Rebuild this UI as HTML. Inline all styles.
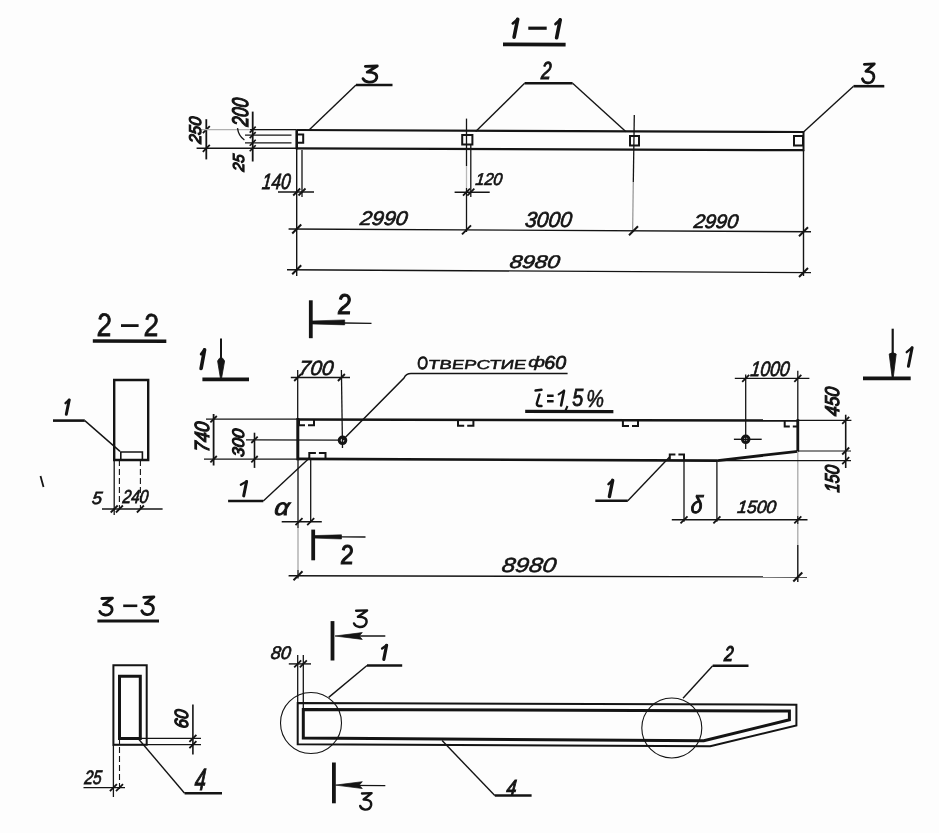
<!DOCTYPE html>
<html><head><meta charset="utf-8"><style>
html,body{margin:0;padding:0;background:#fff;}
svg{display:block;will-change:transform;}
text{font-family:"Liberation Sans",sans-serif;font-style:italic;}
</style></head><body>
<svg width="939" height="833" viewBox="0 0 939 833" stroke-linecap="butt">
<rect width="939" height="833" fill="#fdfdfd"/>
<path d="M517.7,19.2 L514.1,37.2" stroke="#141414" stroke-width="3.6" fill="none" stroke-linecap="round" stroke-linejoin="round"/>
<path d="M512.8,23.4 L517.7,19.2" stroke="#141414" stroke-width="2.7" fill="none" stroke-linecap="round" stroke-linejoin="round"/>
<line x1="528.3" y1="28.2" x2="546.7" y2="28.2" stroke="#141414" stroke-width="3.2" />
<path d="M560.2,19.8 L556.6,37.8" stroke="#141414" stroke-width="3.6" fill="none" stroke-linecap="round" stroke-linejoin="round"/>
<path d="M555.5,24.0 L560.2,19.8" stroke="#141414" stroke-width="2.7" fill="none" stroke-linecap="round" stroke-linejoin="round"/>
<line x1="503.0" y1="44.4" x2="565.6" y2="44.6" stroke="#141414" stroke-width="3.6" />
<line x1="296.7" y1="130.0" x2="803.5" y2="132.0" stroke="#141414" stroke-width="2.2" />
<line x1="296.7" y1="148.3" x2="803.5" y2="150.2" stroke="#141414" stroke-width="2.2" />
<line x1="296.7" y1="129.2" x2="296.7" y2="149.3" stroke="#141414" stroke-width="2.6" />
<line x1="803.5" y1="131.2" x2="803.5" y2="151.2" stroke="#141414" stroke-width="2.0" />
<path d="M297,134.5 H303.2 V142.8 H297 Z" stroke="#141414" stroke-width="2.0" fill="none"  stroke-linejoin="miter"/>
<path d="M462.2,134.9 H472.4 V144.6 H462.2 Z" stroke="#141414" stroke-width="2.0" fill="none"  stroke-linejoin="miter"/>
<path d="M630,136 H639 V145.5 H630 Z" stroke="#141414" stroke-width="2.0" fill="none"  stroke-linejoin="miter"/>
<path d="M794,136 H803 V145.5 H794 Z" stroke="#141414" stroke-width="2.0" fill="none"  stroke-linejoin="miter"/>
<path d="M365.3,66.3 L377.3,66.0 L367.2,72.2 Q377.8,72.0 376.7,77.9 Q375.0,82.5 368.8,82.1 Q364.3,81.5 363.0,78.6" stroke="#141414" stroke-width="2.8" fill="none" stroke-linecap="round" stroke-linejoin="round"/>
<line x1="356.0" y1="85.0" x2="392.5" y2="85.0" stroke="#141414" stroke-width="2.6" />
<line x1="356.0" y1="85.0" x2="308.8" y2="130.3" stroke="#141414" stroke-width="1.4" />
<text transform="translate(540.80,79.00) scale(0.01759,0.02479) skewX(-7)" font-size="1000" stroke="#141414" stroke-width="1.0" vector-effect="non-scaling-stroke" fill="#141414">2</text>
<line x1="524.6" y1="83.3" x2="572.6" y2="83.3" stroke="#141414" stroke-width="2.6" />
<line x1="524.6" y1="83.3" x2="475.7" y2="131.6" stroke="#141414" stroke-width="1.4" />
<line x1="572.6" y1="83.3" x2="626.0" y2="131.7" stroke="#141414" stroke-width="1.4" />
<path d="M864.3,64.3 L874.3,63.9 L865.9,71.3 Q874.7,71.0 873.8,78.0 Q872.4,83.4 867.3,82.9 Q863.5,82.3 862.4,78.8" stroke="#141414" stroke-width="2.8" fill="none" stroke-linecap="round" stroke-linejoin="round"/>
<line x1="853.5" y1="86.2" x2="884.3" y2="86.2" stroke="#141414" stroke-width="2.6" />
<line x1="853.5" y1="86.2" x2="803.5" y2="132.0" stroke="#141414" stroke-width="1.4" />
<line x1="206.3" y1="119.2" x2="206.3" y2="159.4" stroke="#141414" stroke-width="1.8" />
<line x1="202.8" y1="133.1" x2="209.8" y2="126.1" stroke="#141414" stroke-width="1.8" />
<line x1="202.8" y1="151.8" x2="209.8" y2="144.8" stroke="#141414" stroke-width="1.8" />
<line x1="200.0" y1="129.6" x2="296.0" y2="129.6" stroke="#b0b0b0" stroke-width="1.1" />
<line x1="250.0" y1="129.6" x2="296.0" y2="129.6" stroke="#141414" stroke-width="1.4" />
<line x1="196.6" y1="148.3" x2="296.0" y2="148.3" stroke="#141414" stroke-width="1.4" />
<text transform="translate(201.43,144.11) rotate(-90) scale(0.01610,0.01695) skewX(-7)" font-size="1000" stroke="#141414" stroke-width="1.2" vector-effect="non-scaling-stroke" fill="#141414">250</text>
<line x1="252.7" y1="111.6" x2="252.7" y2="161.5" stroke="#141414" stroke-width="1.8" />
<line x1="249.7" y1="132.6" x2="255.7" y2="126.6" stroke="#141414" stroke-width="1.6" />
<line x1="249.7" y1="138.1" x2="255.7" y2="132.1" stroke="#141414" stroke-width="1.6" />
<line x1="249.7" y1="145.8" x2="255.7" y2="139.8" stroke="#141414" stroke-width="1.6" />
<line x1="249.7" y1="151.3" x2="255.7" y2="145.3" stroke="#141414" stroke-width="1.6" />
<line x1="245.0" y1="135.1" x2="291.5" y2="135.1" stroke="#141414" stroke-width="1.3" />
<line x1="245.0" y1="142.8" x2="291.5" y2="142.8" stroke="#141414" stroke-width="1.3" />
<text transform="translate(248.37,126.80) rotate(-90) scale(0.01696,0.02260) skewX(-7)" font-size="1000" stroke="#141414" stroke-width="1.2" vector-effect="non-scaling-stroke" fill="#141414">200</text>
<path d="M237.5,128.2 Q238.5,136 244.4,140" stroke="#141414" stroke-width="1.3" fill="none"  stroke-linejoin="miter"/>
<text transform="translate(244.24,171.81) rotate(-90) scale(0.01519,0.01582) skewX(-7)" font-size="1000" stroke="#141414" stroke-width="1.2" vector-effect="non-scaling-stroke" fill="#141414">25</text>
<line x1="296.7" y1="148.0" x2="296.7" y2="276.0" stroke="#141414" stroke-width="1.4" />
<line x1="302.0" y1="150.0" x2="302.0" y2="197.0" stroke="#141414" stroke-width="1.3" />
<line x1="278.0" y1="192.0" x2="314.0" y2="192.0" stroke="#141414" stroke-width="1.4" />
<line x1="293.2" y1="195.5" x2="300.2" y2="188.5" stroke="#141414" stroke-width="1.8" />
<line x1="298.5" y1="195.5" x2="305.5" y2="188.5" stroke="#141414" stroke-width="1.8" />
<text transform="translate(261.40,189.13) scale(0.01711,0.02203) skewX(-7)" font-size="1000" stroke="#141414" stroke-width="0.7" vector-effect="non-scaling-stroke" fill="#141414">140</text>
<line x1="466.5" y1="118.6" x2="466.5" y2="166.0" stroke="#141414" stroke-width="1.3" />
<line x1="466.5" y1="166.0" x2="466.5" y2="188.0" stroke="#b8b8b8" stroke-width="1.3" />
<line x1="466.5" y1="188.0" x2="466.5" y2="232.0" stroke="#141414" stroke-width="1.3" />
<line x1="470.8" y1="144.0" x2="470.8" y2="197.0" stroke="#141414" stroke-width="1.3" />
<line x1="454.6" y1="192.2" x2="489.7" y2="192.2" stroke="#141414" stroke-width="1.4" />
<line x1="463.0" y1="195.7" x2="470.0" y2="188.7" stroke="#141414" stroke-width="1.8" />
<line x1="467.3" y1="195.7" x2="474.3" y2="188.7" stroke="#141414" stroke-width="1.8" />
<text transform="translate(474.93,185.28) scale(0.01611,0.01709) skewX(-7)" font-size="1000" stroke="#141414" stroke-width="0.7" vector-effect="non-scaling-stroke" fill="#141414">120</text>
<line x1="634.3" y1="115.0" x2="633.3" y2="182.0" stroke="#141414" stroke-width="1.3" />
<line x1="633.3" y1="182.0" x2="632.6" y2="232.0" stroke="#9a9a9a" stroke-width="1.3" />
<line x1="803.5" y1="150.0" x2="803.5" y2="276.0" stroke="#141414" stroke-width="1.4" />
<line x1="288.6" y1="229.0" x2="811.0" y2="231.7" stroke="#141414" stroke-width="1.4" />
<line x1="292.2" y1="233.5" x2="301.2" y2="224.5" stroke="#141414" stroke-width="2.0" />
<line x1="462.0" y1="234.4" x2="471.0" y2="225.4" stroke="#141414" stroke-width="2.0" />
<line x1="629.0" y1="235.3" x2="638.0" y2="226.3" stroke="#141414" stroke-width="2.0" />
<line x1="799.0" y1="236.2" x2="808.0" y2="227.2" stroke="#141414" stroke-width="2.0" />
<text transform="translate(359.48,224.65) scale(0.02133,0.01977) skewX(-7)" font-size="1000" stroke="#141414" stroke-width="0.7" vector-effect="non-scaling-stroke" fill="#141414">2990</text>
<text transform="translate(524.43,227.43) scale(0.02104,0.02161) skewX(-7)" font-size="1000" stroke="#141414" stroke-width="0.7" vector-effect="non-scaling-stroke" fill="#141414">3000</text>
<text transform="translate(693.17,227.96) scale(0.01997,0.01949) skewX(-7)" font-size="1000" stroke="#141414" stroke-width="0.7" vector-effect="non-scaling-stroke" fill="#141414">2990</text>
<line x1="287.0" y1="269.7" x2="811.0" y2="272.6" stroke="#141414" stroke-width="1.4" />
<line x1="292.2" y1="274.3" x2="301.2" y2="265.3" stroke="#141414" stroke-width="2.0" />
<line x1="799.0" y1="277.0" x2="808.0" y2="268.0" stroke="#141414" stroke-width="2.0" />
<text transform="translate(508.92,268.17) scale(0.02254,0.01836) skewX(-7)" font-size="1000" stroke="#141414" stroke-width="0.7" vector-effect="non-scaling-stroke" fill="#141414">8980</text>
<text transform="translate(98.12,336.35) scale(0.02645,0.03252) skewX(8)" font-size="1000" stroke="#141414" stroke-width="0.7" vector-effect="non-scaling-stroke" fill="#141414">2</text>
<line x1="121.0" y1="325.6" x2="138.6" y2="325.6" stroke="#141414" stroke-width="2.8" />
<text transform="translate(144.92,336.35) scale(0.02645,0.03181) skewX(8)" font-size="1000" stroke="#141414" stroke-width="0.7" vector-effect="non-scaling-stroke" fill="#141414">2</text>
<line x1="92.8" y1="341.0" x2="166.3" y2="341.2" stroke="#141414" stroke-width="3.4" />
<path d="M114.2,380 H148.2 V460 H114.2 Z" stroke="#141414" stroke-width="2.4" fill="none"  stroke-linejoin="miter"/>
<path d="M120.8,460 V452 H142.4 V460" stroke="#141414" stroke-width="1.6" fill="none"  stroke-linejoin="miter"/>
<path d="M69.2,399.9 L66.3,414.2" stroke="#141414" stroke-width="3.0" fill="none" stroke-linecap="round" stroke-linejoin="round"/>
<path d="M65.5,403.2 L69.2,399.9" stroke="#141414" stroke-width="2.25" fill="none" stroke-linecap="round" stroke-linejoin="round"/>
<line x1="53.0" y1="420.6" x2="84.8" y2="420.6" stroke="#141414" stroke-width="2.6" />
<line x1="84.8" y1="420.6" x2="120.0" y2="451.4" stroke="#141414" stroke-width="1.4" />
<line x1="114.2" y1="460.0" x2="114.2" y2="515.0" stroke="#141414" stroke-width="1.3" />
<line x1="119.4" y1="460.0" x2="119.4" y2="509.0" stroke="#141414" stroke-width="1.1" stroke-dasharray="6,3"/>
<line x1="140.4" y1="460.0" x2="140.4" y2="509.0" stroke="#141414" stroke-width="1.1" stroke-dasharray="6,3"/>
<line x1="102.0" y1="509.0" x2="162.6" y2="509.0" stroke="#141414" stroke-width="1.4" />
<line x1="110.7" y1="512.5" x2="117.7" y2="505.5" stroke="#141414" stroke-width="1.8" />
<line x1="115.9" y1="512.5" x2="122.9" y2="505.5" stroke="#141414" stroke-width="1.8" />
<line x1="136.9" y1="512.5" x2="143.9" y2="505.5" stroke="#141414" stroke-width="1.8" />
<text transform="translate(91.61,504.27) scale(0.01796,0.01762) skewX(-7)" font-size="1000" stroke="#141414" stroke-width="0.7" vector-effect="non-scaling-stroke" fill="#141414">5</text>
<text transform="translate(122.14,503.46) scale(0.01529,0.01879) skewX(-7)" font-size="1000" stroke="#141414" stroke-width="0.7" vector-effect="non-scaling-stroke" fill="#141414">240</text>
<path d="M204.6,349.7 L201.1,368.5" stroke="#141414" stroke-width="3.6" fill="none" stroke-linecap="round" stroke-linejoin="round"/>
<path d="M201.1,354.2 L204.6,349.7" stroke="#141414" stroke-width="2.7" fill="none" stroke-linecap="round" stroke-linejoin="round"/>
<line x1="221.0" y1="338.6" x2="221.0" y2="362.0" stroke="#141414" stroke-width="2.0" />
<path d="M217.6,361 Q221,354 224.6,361 L221.6,378 L220.4,378 Z" stroke="#141414" stroke-width="0.8" fill="#141414"  stroke-linejoin="miter"/>
<line x1="202.4" y1="379.4" x2="249.0" y2="379.4" stroke="#141414" stroke-width="3.6" />
<line x1="892.7" y1="328.7" x2="892.7" y2="356.0" stroke="#141414" stroke-width="2.2" />
<path d="M889.2,354 Q892.7,351.5 896.2,354 L893.3,377 L892.1,377 Z" stroke="#141414" stroke-width="0.8" fill="#141414"  stroke-linejoin="miter"/>
<line x1="863.0" y1="378.4" x2="910.7" y2="378.4" stroke="#141414" stroke-width="3.6" />
<path d="M912.1,347.7 L908.4,366.3" stroke="#141414" stroke-width="3.0" fill="none" stroke-linecap="round" stroke-linejoin="round"/>
<path d="M906.7,352.2 L912.1,347.7" stroke="#141414" stroke-width="2.25" fill="none" stroke-linecap="round" stroke-linejoin="round"/>
<line x1="310.8" y1="300.3" x2="310.8" y2="338.2" stroke="#141414" stroke-width="3.8" />
<path d="M311,321 L344.7,319.9 L344.7,324.9 L311,323.9 Z" stroke="#141414" stroke-width="0.6" fill="#141414"  stroke-linejoin="miter"/>
<line x1="344.0" y1="323.0" x2="371.5" y2="323.4" stroke="#141414" stroke-width="1.4" />
<text transform="translate(338.20,313.65) scale(0.02490,0.02865) skewX(6)" font-size="1000" stroke="#141414" stroke-width="1.1" vector-effect="non-scaling-stroke" fill="#141414">2</text>
<line x1="313.2" y1="529.6" x2="313.2" y2="560.3" stroke="#141414" stroke-width="3.8" />
<path d="M313.5,535.6 L341.5,534.8 L341.5,539 L313.5,538.1 Z" stroke="#141414" stroke-width="0.6" fill="#141414"  stroke-linejoin="miter"/>
<line x1="341.0" y1="536.9" x2="365.5" y2="537.0" stroke="#141414" stroke-width="1.4" />
<text transform="translate(341.19,564.45) scale(0.02308,0.02722) skewX(6)" font-size="1000" stroke="#141414" stroke-width="1.1" vector-effect="non-scaling-stroke" fill="#141414">2</text>
<line x1="297.7" y1="419.4" x2="798.0" y2="420.6" stroke="#141414" stroke-width="2.5" />
<line x1="297.7" y1="458.9" x2="717.6" y2="460.6" stroke="#141414" stroke-width="2.7" />
<line x1="297.8" y1="418.0" x2="297.8" y2="460.3" stroke="#141414" stroke-width="3.0" />
<line x1="797.8" y1="419.2" x2="797.8" y2="452.0" stroke="#141414" stroke-width="2.8" />
<line x1="797.8" y1="451.3" x2="717.6" y2="460.6" stroke="#141414" stroke-width="2.8" />
<line x1="246.0" y1="439.8" x2="339.0" y2="440.2" stroke="#141414" stroke-width="1.2" />
<line x1="341.4" y1="370.0" x2="342.5" y2="448.0" stroke="#141414" stroke-width="1.3" />
<circle cx="342.5" cy="440.3" r="3.3" stroke="#141414" stroke-width="3.0" fill="none"/>
<line x1="733.9" y1="439.3" x2="761.7" y2="439.3" stroke="#141414" stroke-width="1.4" />
<line x1="745.7" y1="374.5" x2="745.7" y2="449.0" stroke="#141414" stroke-width="1.3" />
<circle cx="745.7" cy="439.3" r="3.3" stroke="#141414" stroke-width="3.0" fill="none"/>
<line x1="290.8" y1="377.5" x2="350.0" y2="377.5" stroke="#141414" stroke-width="1.4" />
<line x1="294.2" y1="381.0" x2="301.2" y2="374.0" stroke="#141414" stroke-width="1.8" />
<line x1="337.9" y1="381.0" x2="344.9" y2="374.0" stroke="#141414" stroke-width="1.8" />
<text transform="translate(298.35,374.95) scale(0.02062,0.02048) skewX(-7)" font-size="1000" stroke="#141414" stroke-width="0.7" vector-effect="non-scaling-stroke" fill="#141414">700</text>
<line x1="297.7" y1="370.0" x2="297.7" y2="420.0" stroke="#141414" stroke-width="1.3" />
<line x1="734.8" y1="378.4" x2="809.4" y2="378.4" stroke="#141414" stroke-width="1.4" />
<line x1="742.2" y1="381.9" x2="749.2" y2="374.9" stroke="#141414" stroke-width="1.8" />
<line x1="794.3" y1="381.9" x2="801.3" y2="374.9" stroke="#141414" stroke-width="1.8" />
<text transform="translate(749.89,375.94) scale(0.01759,0.02090) skewX(-7)" font-size="1000" stroke="#141414" stroke-width="0.7" vector-effect="non-scaling-stroke" fill="#141414">1000</text>
<line x1="797.8" y1="370.7" x2="797.8" y2="420.0" stroke="#141414" stroke-width="1.3" />
<line x1="797.8" y1="451.0" x2="797.8" y2="516.0" stroke="#a8a8a8" stroke-width="1.3" />
<line x1="797.8" y1="516.0" x2="797.8" y2="524.0" stroke="#141414" stroke-width="1.3" />
<line x1="797.8" y1="524.0" x2="797.8" y2="545.0" stroke="#a8a8a8" stroke-width="1.3" />
<line x1="797.8" y1="545.0" x2="797.8" y2="582.0" stroke="#141414" stroke-width="1.4" />
<path d="M342.5,440.3 L404,378 Q406,373.6 411,373.6 L567.6,373.6" stroke="#141414" stroke-width="1.5" fill="none"  stroke-linejoin="miter"/>
<text transform="translate(417.60,369.07) scale(0.01364,0.01751) skewX(4)" font-size="1000" stroke="#141414" stroke-width="0.9" vector-effect="non-scaling-stroke" fill="#141414">О</text>
<text transform="translate(428.43,369.27) scale(0.01859,0.01299) skewX(4)" font-size="1000" stroke="#141414" stroke-width="0.6" vector-effect="non-scaling-stroke" fill="#141414">ТВЕРСТИЕ</text>
<text transform="translate(528.32,367.27) scale(0.02000,0.01458) skewX(0)" font-size="1000" stroke="#141414" stroke-width="0.6" vector-effect="non-scaling-stroke" fill="#141414">ф</text>
<text transform="translate(544.30,369.12) scale(0.01966,0.01766) skewX(0)" font-size="1000" stroke="#141414" stroke-width="0.8" vector-effect="non-scaling-stroke" fill="#141414">60</text>
<path d="M535.5,390.5 L541.5,389.8 M539.5,394.5 L536.8,403.5 Q536.5,406.5 541.5,406" stroke="#141414" stroke-width="2.4" fill="none" stroke-linecap="round" stroke-linejoin="miter"/>
<text transform="translate(546.62,406.36) scale(0.01235,0.02236) skewX(0)" font-size="1000" stroke="#141414" stroke-width="0.8" vector-effect="non-scaling-stroke" fill="#141414">=</text>
<path d="M564.0,390.9 L561.1,405.5" stroke="#141414" stroke-width="2.6" fill="none" stroke-linecap="round" stroke-linejoin="round"/>
<path d="M558.6,394.4 L564.0,390.9" stroke="#141414" stroke-width="1.9500000000000002" fill="none" stroke-linecap="round" stroke-linejoin="round"/>
<line x1="567.5" y1="406.0" x2="565.5" y2="410.5" stroke="#141414" stroke-width="2.0" />
<text transform="translate(572.14,406.17) scale(0.01981,0.02350) skewX(0)" font-size="1000" stroke="#141414" stroke-width="0.8" vector-effect="non-scaling-stroke" fill="#141414">5</text>
<text transform="translate(586.33,406.61) scale(0.02000,0.02414) skewX(0)" font-size="1000" stroke="#141414" stroke-width="0.5" vector-effect="non-scaling-stroke" fill="#141414">%</text>
<line x1="525.2" y1="411.4" x2="613.4" y2="411.6" stroke="#141414" stroke-width="3.2" />
<path d="M299.0,419.4 V425.2 H305.0 M308.0,425.2 H314.0 V419.4" stroke="#141414" stroke-width="2.0" fill="none"  stroke-linejoin="miter"/>
<path d="M458.0,420 V425.8 H464.2 M467.2,425.8 H473.4 V420" stroke="#141414" stroke-width="2.0" fill="none"  stroke-linejoin="miter"/>
<path d="M622.9,420.2 V426.0 H629.0 M632.0,426.0 H638.0 V420.2" stroke="#141414" stroke-width="2.0" fill="none"  stroke-linejoin="miter"/>
<path d="M784.7,420.6 V426.40000000000003 H789.8 M792.8,426.40000000000003 H797.8 V420.6" stroke="#141414" stroke-width="2.0" fill="none"  stroke-linejoin="miter"/>
<path d="M309.3,458.9 V452.9 H315.9 M318.9,452.9 H325.5 V458.9" stroke="#141414" stroke-width="2.0" fill="none"  stroke-linejoin="miter"/>
<path d="M669.8,460.4 V454.4 H675.4 M678.4,454.4 H684.0 V460.4" stroke="#141414" stroke-width="2.0" fill="none"  stroke-linejoin="miter"/>
<line x1="213.6" y1="414.0" x2="213.6" y2="465.5" stroke="#141414" stroke-width="1.8" />
<line x1="210.4" y1="422.4" x2="216.8" y2="416.0" stroke="#141414" stroke-width="1.8" />
<line x1="210.4" y1="462.4" x2="216.8" y2="456.0" stroke="#141414" stroke-width="1.8" />
<line x1="206.0" y1="419.2" x2="297.0" y2="419.2" stroke="#141414" stroke-width="1.3" />
<line x1="204.0" y1="459.2" x2="297.0" y2="459.2" stroke="#141414" stroke-width="1.3" />
<text transform="translate(209.20,452.58) rotate(-90) scale(0.01800,0.02048) skewX(-7)" font-size="1000" stroke="#141414" stroke-width="1.2" vector-effect="non-scaling-stroke" fill="#141414">740</text>
<line x1="254.5" y1="432.7" x2="254.5" y2="467.9" stroke="#141414" stroke-width="1.6" />
<line x1="251.3" y1="443.0" x2="257.7" y2="436.6" stroke="#141414" stroke-width="1.8" />
<line x1="251.3" y1="462.4" x2="257.7" y2="456.0" stroke="#141414" stroke-width="1.8" />
<text transform="translate(244.03,457.13) rotate(-90) scale(0.01657,0.01667) skewX(-7)" font-size="1000" stroke="#141414" stroke-width="1.2" vector-effect="non-scaling-stroke" fill="#141414">300</text>
<path d="M246.6,481.4 L243.7,495.9" stroke="#141414" stroke-width="3.0" fill="none" stroke-linecap="round" stroke-linejoin="round"/>
<path d="M240.8,484.8 L246.6,481.4" stroke="#141414" stroke-width="2.25" fill="none" stroke-linecap="round" stroke-linejoin="round"/>
<line x1="228.1" y1="501.0" x2="263.3" y2="501.0" stroke="#141414" stroke-width="2.6" />
<line x1="263.3" y1="501.0" x2="309.4" y2="458.0" stroke="#141414" stroke-width="1.4" />
<text transform="translate(273.80,515.27) scale(0.02599,0.02318) skewX(-7)" font-size="1000" stroke="#141414" stroke-width="1.0" vector-effect="non-scaling-stroke" fill="#141414">α</text>
<line x1="298.0" y1="460.0" x2="298.0" y2="528.0" stroke="#141414" stroke-width="1.3" />
<line x1="298.0" y1="528.0" x2="298.0" y2="570.0" stroke="#a8a8a8" stroke-width="1.3" />
<line x1="298.0" y1="570.0" x2="298.0" y2="578.4" stroke="#141414" stroke-width="1.3" />
<line x1="310.7" y1="459.0" x2="310.7" y2="521.7" stroke="#141414" stroke-width="1.3" />
<line x1="281.7" y1="521.7" x2="321.8" y2="521.7" stroke="#141414" stroke-width="1.4" />
<line x1="295.5" y1="525.2" x2="302.5" y2="518.2" stroke="#141414" stroke-width="1.8" />
<line x1="307.2" y1="525.2" x2="314.2" y2="518.2" stroke="#141414" stroke-width="1.8" />
<line x1="288.6" y1="575.7" x2="807.0" y2="577.0" stroke="#141414" stroke-width="1.4" />
<line x1="293.5" y1="580.3" x2="302.5" y2="571.3" stroke="#141414" stroke-width="2.0" />
<line x1="793.3" y1="581.5" x2="802.3" y2="572.5" stroke="#141414" stroke-width="2.0" />
<text transform="translate(500.98,571.50) scale(0.02451,0.02034) skewX(-7)" font-size="1000" stroke="#141414" stroke-width="0.6" vector-effect="non-scaling-stroke" fill="#141414">8980</text>
<line x1="845.7" y1="414.7" x2="845.7" y2="468.0" stroke="#141414" stroke-width="1.6" />
<line x1="842.2" y1="423.9" x2="849.2" y2="416.9" stroke="#141414" stroke-width="1.8" />
<line x1="842.2" y1="454.5" x2="849.2" y2="447.5" stroke="#141414" stroke-width="1.8" />
<line x1="842.2" y1="464.1" x2="849.2" y2="457.1" stroke="#141414" stroke-width="1.8" />
<line x1="797.8" y1="420.4" x2="851.4" y2="420.4" stroke="#141414" stroke-width="1.1" />
<line x1="797.8" y1="451.0" x2="851.0" y2="451.0" stroke="#141414" stroke-width="1.1" />
<line x1="717.0" y1="460.6" x2="851.0" y2="460.6" stroke="#141414" stroke-width="1.1" />
<text transform="translate(839.20,416.46) rotate(-90) scale(0.01735,0.01992) skewX(-7)" font-size="1000" stroke="#141414" stroke-width="1.2" vector-effect="non-scaling-stroke" fill="#141414">450</text>
<text transform="translate(839.20,492.82) rotate(-90) scale(0.01616,0.01992) skewX(-7)" font-size="1000" stroke="#141414" stroke-width="1.2" vector-effect="non-scaling-stroke" fill="#141414">150</text>
<path d="M612.7,480.3 L609.4,496.6" stroke="#141414" stroke-width="3.4" fill="none" stroke-linecap="round" stroke-linejoin="round"/>
<path d="M608.5,484.1 L612.7,480.3" stroke="#141414" stroke-width="2.55" fill="none" stroke-linecap="round" stroke-linejoin="round"/>
<line x1="595.3" y1="500.7" x2="627.8" y2="500.7" stroke="#141414" stroke-width="2.6" />
<line x1="627.8" y1="500.7" x2="669.8" y2="456.8" stroke="#141414" stroke-width="1.4" />
<line x1="684.0" y1="460.0" x2="684.0" y2="521.7" stroke="#141414" stroke-width="1.3" />
<line x1="716.9" y1="460.0" x2="716.9" y2="521.7" stroke="#141414" stroke-width="1.3" />
<line x1="671.8" y1="519.8" x2="807.5" y2="519.8" stroke="#141414" stroke-width="1.4" />
<line x1="680.5" y1="523.3" x2="687.5" y2="516.3" stroke="#141414" stroke-width="1.8" />
<line x1="713.4" y1="523.3" x2="720.4" y2="516.3" stroke="#141414" stroke-width="1.8" />
<line x1="794.3" y1="523.3" x2="801.3" y2="516.3" stroke="#141414" stroke-width="1.8" />
<text transform="translate(690.28,513.26) scale(0.02070,0.02449) skewX(-7)" font-size="1000" stroke="#141414" stroke-width="1.0" vector-effect="non-scaling-stroke" fill="#141414">δ</text>
<text transform="translate(736.69,513.47) scale(0.01750,0.01780) skewX(-7)" font-size="1000" stroke="#141414" stroke-width="0.7" vector-effect="non-scaling-stroke" fill="#141414">1500</text>
<path d="M101.8,598.5 L112.5,598.1 L103.5,604.7 Q113.0,604.5 112.0,610.6 Q110.5,615.4 105.0,615.0 Q100.9,614.5 99.8,611.4" stroke="#141414" stroke-width="2.8" fill="none" stroke-linecap="round" stroke-linejoin="round"/>
<line x1="123.2" y1="605.8" x2="137.3" y2="605.8" stroke="#141414" stroke-width="2.6" />
<path d="M143.7,597.3 L153.9,596.9 L145.4,603.7 Q154.3,603.5 153.3,610.0 Q152.0,615.0 146.8,614.6 Q142.9,614.0 141.8,610.8" stroke="#141414" stroke-width="2.8" fill="none" stroke-linecap="round" stroke-linejoin="round"/>
<line x1="97.4" y1="621.0" x2="159.0" y2="621.0" stroke="#141414" stroke-width="3.0" />
<path d="M113.4,665.3 H146.7 V744.7 H113.4 Z" stroke="#141414" stroke-width="2.0" fill="none"  stroke-linejoin="miter"/>
<path d="M119.5,676.3 H140.3 V738.4 H119.5 Z" stroke="#141414" stroke-width="3.0" fill="none"  stroke-linejoin="miter"/>
<line x1="192.9" y1="704.6" x2="192.9" y2="754.4" stroke="#141414" stroke-width="1.6" />
<line x1="189.4" y1="741.9" x2="196.4" y2="734.9" stroke="#141414" stroke-width="1.8" />
<line x1="189.4" y1="748.2" x2="196.4" y2="741.2" stroke="#141414" stroke-width="1.8" />
<line x1="140.0" y1="738.4" x2="201.0" y2="738.4" stroke="#141414" stroke-width="1.3" />
<line x1="113.4" y1="744.7" x2="201.0" y2="744.7" stroke="#141414" stroke-width="1.3" />
<text transform="translate(187.91,728.75) rotate(-90) scale(0.01669,0.01907) skewX(-7)" font-size="1000" stroke="#141414" stroke-width="1.2" vector-effect="non-scaling-stroke" fill="#141414">60</text>
<line x1="83.5" y1="787.6" x2="125.0" y2="787.6" stroke="#141414" stroke-width="1.4" />
<line x1="109.9" y1="791.1" x2="116.9" y2="784.1" stroke="#141414" stroke-width="1.8" />
<line x1="116.0" y1="791.1" x2="123.0" y2="784.1" stroke="#141414" stroke-width="1.8" />
<line x1="113.4" y1="745.0" x2="113.4" y2="797.0" stroke="#141414" stroke-width="1.3" />
<line x1="119.5" y1="738.0" x2="119.5" y2="790.0" stroke="#141414" stroke-width="1.1" stroke-dasharray="6,3"/>
<text transform="translate(83.94,784.46) scale(0.01561,0.01949) skewX(-7)" font-size="1000" stroke="#141414" stroke-width="0.7" vector-effect="non-scaling-stroke" fill="#141414">25</text>
<text transform="translate(194.28,789.90) scale(0.01982,0.03067) skewX(-7)" font-size="1000" stroke="#141414" stroke-width="1.0" vector-effect="non-scaling-stroke" fill="#141414">4</text>
<line x1="184.6" y1="793.2" x2="222.0" y2="793.2" stroke="#141414" stroke-width="2.6" />
<line x1="184.6" y1="793.2" x2="137.5" y2="737.8" stroke="#141414" stroke-width="1.4" />
<path d="M297.7,702.9 L796.4,704.7 L796.4,725.4 L710.2,746.2 L297.7,744.3 Z" stroke="#141414" stroke-width="2.0" fill="none"  stroke-linejoin="miter"/>
<path d="M303.3,709.4 L789.4,711 L789.4,719.7 L703.8,740.8 L303.3,738.0 Z" stroke="#141414" stroke-width="3.0" fill="none"  stroke-linejoin="miter"/>
<circle cx="311" cy="723" r="30.5" stroke="#141414" stroke-width="1.1" fill="none"/>
<circle cx="671.8" cy="728" r="30" stroke="#141414" stroke-width="1.1" fill="none"/>
<line x1="332.5" y1="621.1" x2="332.5" y2="660.5" stroke="#141414" stroke-width="3.8" />
<line x1="345.0" y1="636.0" x2="385.3" y2="636.0" stroke="#141414" stroke-width="1.3" />
<path d="M335,636 L362.3,632.6 L359.2,636 L362.3,639.4 Z" stroke="#141414" stroke-width="0.7" fill="#141414"  stroke-linejoin="miter"/>
<path d="M356.1,610.8 L367.1,610.4 L357.9,616.8 Q367.6,616.6 366.5,622.6 Q365.0,627.3 359.4,627.0 Q355.2,626.4 354.0,623.4" stroke="#141414" stroke-width="2.4" fill="none" stroke-linecap="round" stroke-linejoin="round"/>
<line x1="333.9" y1="762.5" x2="333.9" y2="803.3" stroke="#141414" stroke-width="3.8" />
<line x1="345.0" y1="785.3" x2="385.3" y2="785.7" stroke="#141414" stroke-width="1.3" />
<path d="M335.5,785.1 L362.3,781.7 L359.2,785.2 L362.3,788.5 Z" stroke="#141414" stroke-width="0.7" fill="#141414"  stroke-linejoin="miter"/>
<path d="M362.0,793.5 L371.6,793.1 L363.6,799.5 Q372.0,799.3 371.1,805.3 Q369.8,809.9 364.9,809.6 Q361.2,809.0 360.2,806.0" stroke="#141414" stroke-width="2.4" fill="none" stroke-linecap="round" stroke-linejoin="round"/>
<text transform="translate(270.33,659.37) scale(0.01796,0.01822) skewX(-7)" font-size="1000" stroke="#141414" stroke-width="0.7" vector-effect="non-scaling-stroke" fill="#141414">80</text>
<line x1="288.8" y1="663.9" x2="311.0" y2="663.9" stroke="#141414" stroke-width="1.4" />
<line x1="294.2" y1="667.4" x2="301.2" y2="660.4" stroke="#141414" stroke-width="1.8" />
<line x1="299.8" y1="667.4" x2="306.8" y2="660.4" stroke="#141414" stroke-width="1.8" />
<line x1="297.7" y1="655.0" x2="297.7" y2="703.0" stroke="#141414" stroke-width="1.3" />
<line x1="303.3" y1="655.0" x2="303.3" y2="709.0" stroke="#141414" stroke-width="1.3" />
<path d="M386.6,645.3 L383.8,659.4" stroke="#141414" stroke-width="3.2" fill="none" stroke-linecap="round" stroke-linejoin="round"/>
<path d="M382.1,648.5 L386.6,645.3" stroke="#141414" stroke-width="2.4000000000000004" fill="none" stroke-linecap="round" stroke-linejoin="round"/>
<line x1="367.0" y1="665.5" x2="402.2" y2="665.5" stroke="#141414" stroke-width="2.6" />
<line x1="367.0" y1="665.5" x2="328.7" y2="697.4" stroke="#141414" stroke-width="1.4" />
<text transform="translate(506.03,794.50) scale(0.01773,0.02180) skewX(-7)" font-size="1000" stroke="#141414" stroke-width="1.0" vector-effect="non-scaling-stroke" fill="#141414">4</text>
<line x1="494.8" y1="795.5" x2="531.6" y2="795.5" stroke="#141414" stroke-width="2.6" />
<line x1="494.8" y1="795.5" x2="442.1" y2="740.6" stroke="#141414" stroke-width="1.4" />
<text transform="translate(723.64,660.95) scale(0.01613,0.02120) skewX(-7)" font-size="1000" stroke="#141414" stroke-width="1.1" vector-effect="non-scaling-stroke" fill="#141414">2</text>
<line x1="712.7" y1="665.7" x2="748.5" y2="665.7" stroke="#141414" stroke-width="2.6" />
<line x1="712.7" y1="665.7" x2="683.0" y2="698.3" stroke="#141414" stroke-width="1.4" />
<line x1="40.5" y1="476.0" x2="43.5" y2="487.0" stroke="#141414" stroke-width="1.8" />
</svg></body></html>
